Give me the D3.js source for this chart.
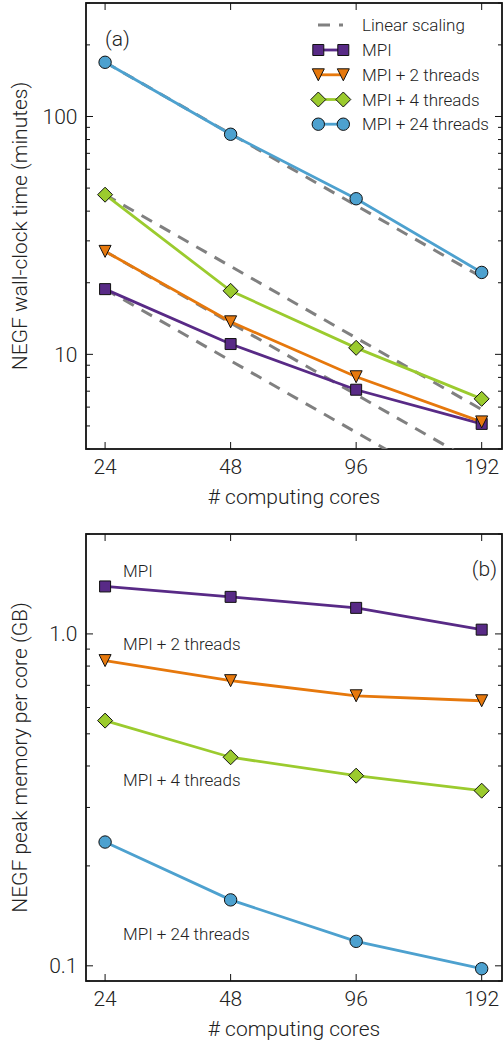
<!DOCTYPE html>
<html>
<head>
<meta charset="utf-8">
<script src="https://cdn.jsdelivr.net/npm/d3@7"></script>
<style>
  html, body { margin: 0; padding: 0; background: #fff; }
  svg text { font-family: Roboto, "Open Sans", sans-serif; font-weight: 300; fill: #222; }
</style>
</head>
<body>
<svg id="chart" width="503" height="1044"></svg>
<script>
// ---- data ----
const cores = [24, 48, 96, 192];
const seriesNames = ["MPI", "MPI + 2 threads", "MPI + 4 threads", "MPI + 24 threads"];
const seriesColors = ["#582a86", "#e6780c", "#9bcb2e", "#4da1cf"];
const seriesMarkers = ["square", "triangle", "diamond", "circle"];

// NEGF wall-clock time (minutes)
const timeMPI = [18.8, 11.05, 7.1, 5.1];
const time2T = [27.1, 13.7, 8.05, 5.2];
const time4T = [46.9, 18.5, 10.65, 6.5];
const time24T = [169, 84.2, 45.1, 22.1];

// NEGF peak memory per core (GB)
const memMPI = [1.39, 1.293, 1.198, 1.03];
const mem2T = [0.831, 0.723, 0.651, 0.629];
const mem4T = [0.548, 0.425, 0.374, 0.337];
const mem24T = [0.236, 0.158, 0.1185, 0.098];

const xTicks = [24, 48, 96, 192];
const timeTicks = [10, 100];
const memTicks = [0.1, 1.0];

const timeSeries = [timeMPI, time2T, time4T, time24T];
const memSeries = [memMPI, mem2T, mem4T, mem24T];

// ---- layout ----
const svg = d3.select("#chart");
const left = 86, right = 502;

function markerPath(type) {
  if (type === "square") return "M-5.5,-5.5H5.5V5.5H-5.5Z";
  if (type === "triangle") return "M-6,-6L6,-6L0,6Z";
  if (type === "diamond") return "M0,-7.5L7.5,0L0,7.5L-7.5,0Z";
  return d3.symbol(d3.symbolCircle, Math.PI * 6.2 * 6.2)();
}

function drawMarker(g, type, color, x, y) {
  g.append("path")
    .attr("d", markerPath(type))
    .attr("transform", `translate(${x},${y})`)
    .attr("fill", color)
    .attr("stroke", "#111")
    .attr("stroke-width", 1);
}

function panel(opts) {
  const { top, bottom, yDomain, yTicks, yFormat, id } = opts;
  const x = d3.scaleLog().base(2).domain([21.6, 214.8]).range([left, right]);
  const y = d3.scaleLog().domain(yDomain).range([bottom, top]);
  const g = svg.append("g");

  g.append("clipPath").attr("id", id)
    .append("rect").attr("x", left).attr("y", top)
    .attr("width", right - left).attr("height", bottom - top);

  // ticks: inward on all four sides
  const ticks = g.append("g").attr("stroke", "#111").attr("stroke-width", 1);
  xTicks.forEach(v => {
    ticks.append("line").attr("x1", x(v)).attr("x2", x(v)).attr("y1", bottom).attr("y2", bottom - 7);
    ticks.append("line").attr("x1", x(v)).attr("x2", x(v)).attr("y1", top).attr("y2", top + 7);
  });
  const lo = Math.floor(Math.log10(yDomain[0])), hi = Math.ceil(Math.log10(yDomain[1]));
  for (let e = lo; e <= hi; e++) {
    for (let m = 1; m <= 9; m++) {
      const v = m * Math.pow(10, e);
      if (v < yDomain[0] * 0.999 || v > yDomain[1] * 1.001) continue;
      const len = m === 1 ? 7 : 4;
      const yy = y(v);
      ticks.append("line").attr("x1", left).attr("x2", left + len).attr("y1", yy).attr("y2", yy);
      ticks.append("line").attr("x1", right).attr("x2", right - len).attr("y1", yy).attr("y2", yy);
    }
  }

  // tick labels
  xTicks.forEach(v => {
    g.append("text").attr("x", x(v)).attr("y", bottom + 25)
      .attr("text-anchor", "middle").attr("font-size", 21).text(v);
  });
  yTicks.forEach(v => {
    g.append("text").attr("x", 77.5).attr("y", y(v)).attr("dy", "0.36em")
      .attr("text-anchor", "end").attr("font-size", 21).text(yFormat(v));
  });

  // frame
  g.append("rect").attr("x", left).attr("y", top)
    .attr("width", right - left).attr("height", bottom - top)
    .attr("fill", "none").attr("stroke", "#111").attr("stroke-width", 1.8);

  // axis labels
  g.append("text").attr("x", (left + right) / 2).attr("y", bottom + 55)
    .attr("text-anchor", "middle").attr("font-size", 21).text("# computing cores");
  g.append("text")
    .attr("transform", `translate(27,${(top + bottom) / 2}) rotate(-90)`)
    .attr("text-anchor", "middle").attr("font-size", 21).text(opts.yLabel);

  return { g, x, y };
}

// ---- panel (a): wall-clock time ----
const pa = panel({
  id: "clipA", top: 3, bottom: 449, yDomain: [4, 300], yTicks: timeTicks,
  yFormat: d => d3.format("d")(d), yLabel: "NEGF wall-clock time (minutes)"
});

// linear-scaling references from each series' first point
const plotA = pa.g.append("g").attr("clip-path", "url(#clipA)");
timeSeries.forEach(s => {
  const ref = [cores[0], cores[cores.length - 1]].map(c => [c, s[0] * cores[0] / c]);
  plotA.append("path")
    .attr("d", d3.line().x(d => pa.x(d[0])).y(d => pa.y(d[1]))(ref))
    .attr("fill", "none").attr("stroke", "#808080")
    .attr("stroke-width", 3).attr("stroke-dasharray", "12,9");
});
timeSeries.forEach((s, i) => {
  plotA.append("path")
    .attr("d", d3.line().x((d, j) => pa.x(cores[j])).y(d => pa.y(d))(s))
    .attr("fill", "none").attr("stroke", seriesColors[i]).attr("stroke-width", 2.8);
});
timeSeries.forEach((s, i) => {
  s.forEach((v, j) => drawMarker(pa.g, seriesMarkers[i], seriesColors[i], pa.x(cores[j]), pa.y(v)));
});

pa.g.append("text").attr("x", 105).attr("y", 46).attr("font-size", 21).text("(a)");

// legend
const legend = pa.g.append("g");
const legendRows = [25, 50, 74.8, 99.5, 124.2];
legend.append("line").attr("x1", 318).attr("x2", 343).attr("y1", legendRows[0]).attr("y2", legendRows[0])
  .attr("stroke", "#808080").attr("stroke-width", 3).attr("stroke-dasharray", "12,9");
legend.append("text").attr("x", 362).attr("y", legendRows[0]).attr("dy", "0.36em")
  .attr("font-size", 17).text("Linear scaling");
seriesNames.forEach((name, i) => {
  const yy = legendRows[i + 1];
  legend.append("line").attr("x1", 318).attr("x2", 343).attr("y1", yy).attr("y2", yy)
    .attr("stroke", seriesColors[i]).attr("stroke-width", 2.8);
  drawMarker(legend, seriesMarkers[i], seriesColors[i], 318.3, yy);
  drawMarker(legend, seriesMarkers[i], seriesColors[i], 343.3, yy);
  legend.append("text").attr("x", 362).attr("y", yy).attr("dy", "0.36em")
    .attr("font-size", 17).text(name);
});

// ---- panel (b): peak memory ----
const pb = panel({
  id: "clipB", top: 534, bottom: 981, yDomain: [0.09, 2.0], yTicks: memTicks,
  yFormat: d => d3.format(".1f")(d), yLabel: "NEGF peak memory per core (GB)"
});
const plotB = pb.g.append("g").attr("clip-path", "url(#clipB)");
memSeries.forEach((s, i) => {
  plotB.append("path")
    .attr("d", d3.line().x((d, j) => pb.x(cores[j])).y(d => pb.y(d))(s))
    .attr("fill", "none").attr("stroke", seriesColors[i]).attr("stroke-width", 2.8);
});
memSeries.forEach((s, i) => {
  s.forEach((v, j) => drawMarker(pb.g, seriesMarkers[i], seriesColors[i], pb.x(cores[j]), pb.y(v)));
});

pb.g.append("text").attr("x", 497).attr("y", 576).attr("text-anchor", "end")
  .attr("font-size", 21).text("(b)");

const annotY = [577, 650, 786, 940];
seriesNames.forEach((name, i) => {
  pb.g.append("text").attr("x", 123).attr("y", annotY[i]).attr("font-size", 17).text(name);
});
</script>
</body>
</html>
